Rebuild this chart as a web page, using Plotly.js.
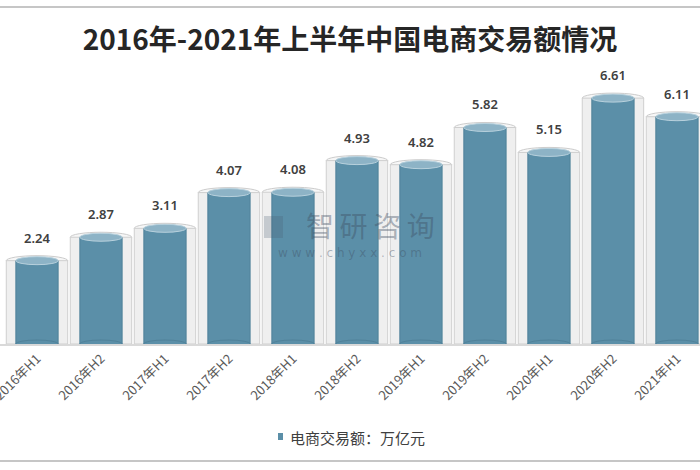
<!DOCTYPE html>
<html>
<head>
<meta charset="utf-8">
<script src="https://cdn.plot.ly/plotly-3.0.1.min.js"></script>
<style>html,body{margin:0;padding:0;background:#fff;}#chart{width:700px;height:470px;}</style>
</head>
<body>
<div id="chart"></div>
<script>
var categories = ["2016年H1","2016年H2","2017年H1","2017年H2","2018年H1","2018年H2","2019年H1","2019年H2","2020年H1","2020年H2","2021年H1"];
var values = [2.24, 2.87, 3.11, 4.07, 4.08, 4.93, 4.82, 5.82, 5.15, 6.61, 6.11];
var seriesName = "电商交易额：万亿元";
var titleText = "2016年-2021年上半年中国电商交易额情况";

var BLUE = "#5b8fa8";
var OUTER_W = 0.96, INNER_W = 0.66;

var outer = {
  type: "bar", x: categories, y: values, width: OUTER_W,
  marker: {color: "#efefef", line: {color: "#cfcfcf", width: 1}},
  hoverinfo: "skip", showlegend: false
};
var inner = {
  type: "bar", x: categories, y: values, width: INNER_W, name: seriesName,
  marker: {color: BLUE, line: {color: "#4f8199", width: 1}},
  showlegend: false
};

var shapes = [];
var annotations = [];
categories.forEach(function(c, i){
  var v = values[i];
  shapes.push({type:"circle", layer:"below", xref:"x", yref:"y",
    x0: i - OUTER_W/2, x1: i + OUTER_W/2,
    ysizemode:"pixel", yanchor: v, y0: -5, y1: 5,
    fillcolor:"#f7f7f7", line:{color:"#cccccc", width:1}});
  shapes.push({type:"circle", layer:"above", xref:"x", yref:"y",
    x0: i - INNER_W/2, x1: i + INNER_W/2,
    ysizemode:"pixel", yanchor: 0, y0: -4, y1: 4,
    fillcolor:BLUE, line:{color:"#4f8199", width:1}});
  shapes.push({type:"circle", layer:"above", xref:"x", yref:"y",
    x0: i - INNER_W/2, x1: i + INNER_W/2,
    ysizemode:"pixel", yanchor: v, y0: -4, y1: 4,
    fillcolor:"#8db3c6", line:{color:"#b8d1dd", width:1}});
  annotations.push({x: c, y: v, xref:"x", yref:"y", text: v.toFixed(2),
    showarrow:false, yanchor:"middle", yshift: 23,
    font:{family:"Noto Sans, sans-serif", size:13, color:"#404040", weight:600}});
});

shapes.push({type:"line", xref:"paper", yref:"paper", x0:0, x1:1, y0:(344-7)/304, y1:(344-7)/304, line:{color:"#c6c6c6", width:2}});
shapes.push({type:"line", xref:"paper", yref:"paper", x0:0, x1:1, y0:(344-461)/304, y1:(344-461)/304, line:{color:"#c6c6c6", width:2}});
shapes.push({type:"rect", xref:"paper", yref:"paper", x0:278/700, x1:283/700, y0:(344-440)/304, y1:(344-433)/304, fillcolor:BLUE, line:{width:0}});
// watermark logo block
shapes.push({type:"rect", xref:"paper", yref:"paper", x0:264/700, x1:283/700, y0:(344-238)/304, y1:(344-216)/304, fillcolor:"rgba(70,90,110,0.25)", line:{width:0}});

annotations.push({xref:"paper", yref:"paper", x:288/700, y:(344-437)/304, xanchor:"left", yanchor:"middle",
  text: seriesName, showarrow:false, font:{family:"Noto Sans CJK SC, sans-serif", size:15, color:"#404040"}});
annotations.push({xref:"paper", yref:"paper", x:370/700, y:(344-225)/304, xanchor:"center", yanchor:"middle",
  text:"智\u2009研\u2009咨\u2009询", showarrow:false, font:{family:"Noto Sans CJK SC, sans-serif", size:28, color:"rgba(60,75,95,0.4)"}});
annotations.push({xref:"paper", yref:"paper", x:350/700, y:(344-253)/304, xanchor:"center", yanchor:"middle",
  text:"w w w . c h y x x . c o m", showarrow:false, font:{family:"DejaVu Sans, sans-serif", size:12, color:"rgba(60,75,95,0.38)"}});

var layout = {
  width: 700, height: 470,
  margin: {l:0, r:0, t:40, b:126, pad:0},
  paper_bgcolor:"#ffffff", plot_bgcolor:"#ffffff",
  barmode:"overlay",
  showlegend:false,
  title: {text: titleText, x:0.5, xanchor:"center", y: 1 - 40/470, yanchor:"middle", yref:"container",
    font:{family:"Noto Sans CJK SC, sans-serif", size:28, color:"#262626", weight:"bold"}},
  xaxis: {type:"category", range:[-0.578, 10.36], showgrid:false, zeroline:false,
    showline:true, linecolor:"#d9d9d9", linewidth:2, layer:"below traces",
    ticks:"", tickangle:-45, automargin:false,
    tickfont:{family:"Noto Sans CJK SC, sans-serif", size:13, color:"#595959"}},
  yaxis: {range:[0, 8.172], visible:false, fixedrange:true},
  shapes: shapes, annotations: annotations
};

Plotly.newPlot("chart", [outer, inner], layout, {staticPlot:true, displayModeBar:false});
</script>
</body>
</html>
